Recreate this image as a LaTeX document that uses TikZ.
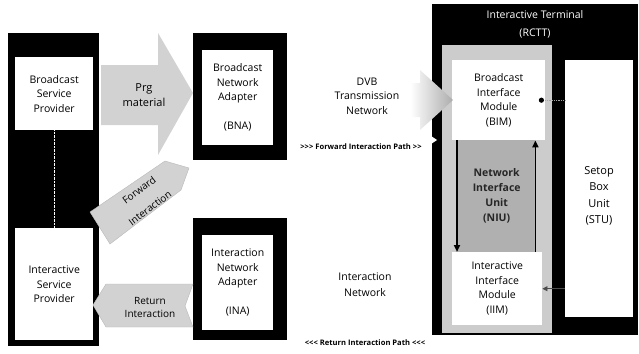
\documentclass[tikz,border=0pt]{standalone}
\usepackage{fontspec}
\setmainfont{Open Sans}
\usetikzlibrary{arrows.meta,calc}
\pgfdeclarehorizontalshading{dvbshade}{100bp}{color(0bp)=(white); color(25bp)=(white); color(62bp)=(white); color(75bp)=(gray!65); color(100bp)=(gray!65)}
\begin{document}
\begin{tikzpicture}[x=1pt,y=-1pt,
  box/.style={draw=none, inner sep=0pt, anchor=north west},
  blackbox/.style={box, fill=black},
  whitebox/.style={box, fill=white},
  lbl/.style={font=\fontsize{10.5}{14.5}\selectfont, align=center, inner sep=0pt},
  arrlbl/.style={font=\fontsize{10}{13}\selectfont, align=center, inner sep=0pt},
  pathlbl/.style={font=\fontsize{7.6}{9}\selectfont\bfseries, inner sep=0pt},
  flow/.style={fill=gray!35, draw=gray!55, line width=0.4pt},
  niuarrow/.style={line width=1.8pt, -{Triangle[length=7pt,width=6pt]}}]
\useasboundingbox (0,0) rectangle (639,353);

% left column
\node[blackbox, minimum width=91, minimum height=313] (lcol) at (8,33) {};
\node[whitebox, minimum width=78, minimum height=73] (bsp) at (15,57) {};
\node[whitebox, minimum width=78, minimum height=112] (isp) at (15,228) {};
\node[lbl] at (bsp.center) {Broadcast\\Service\\Provider};
\node[lbl] at (isp.center) {Interactive\\Service\\Provider};
\draw[white, densely dotted, line width=0.4pt] (bsp.south) -- (isp.north);

% adapters
\node[blackbox, minimum width=94, minimum height=127] (bnacol) at (193,33) {};
\node[whitebox, minimum width=71, minimum height=95] (bna) at (202,50) {};
\node[lbl] at (bna.center) {Broadcast\\Network\\Adapter\\[14.5pt](BNA)};
\node[blackbox, minimum width=94, minimum height=122] (inacol) at (193,218) {};
\node[whitebox, minimum width=71, minimum height=95] (ina) at (202,235) {};
\node[lbl] at (ina.center) {Interaction\\Network\\Adapter\\[14.5pt](INA)};

% terminal
\node[blackbox, minimum width=206, minimum height=331] (term) at (432,4) {};
\node[lbl, text=white, font=\fontsize{10.5}{18}\selectfont] (termlbl) at (535,24) {Interactive Terminal\\(RCTT)};
\node[box, fill=gray!40, minimum width=110, minimum height=288] (panel) at (442,45) {};
\node[box, fill=gray!62, minimum width=77, minimum height=112] (niu) at (458,140) {};
\node[whitebox, minimum width=93, minimum height=80] (bim) at (452,60) {};
\node[whitebox, minimum width=90, minimum height=73] (iim) at (452,252) {};
\node[whitebox, minimum width=68, minimum height=257] (stu) at (565,60) {};
\node[lbl] at (bim.center) {Broadcast\\Interface\\Module\\(BIM)};
\node[lbl, text=black!85, font=\fontsize{10.5}{15}\selectfont\bfseries] at (niu.center) {Network\\Interface\\Unit\\(NIU)};
\node[lbl] at (iim.center) {Interactive\\Interface\\Module\\(IIM)};
\node[lbl, font=\fontsize{11}{16.5}\selectfont] at (599,196) {Setop\\Box\\Unit\\(STU)};

\draw[niuarrow] ([xshift=5pt]bim.south west) -- ([xshift=5pt]iim.north west);
\draw[niuarrow] ([xshift=-7pt]iim.north east) -- ([xshift=-10pt]bim.south east);
\draw[densely dotted, gray!70, line width=0.8pt] ([xshift=-4pt]bim.east) -- (bim.east -| stu.west);
\fill ([xshift=-4pt]bim.east) circle (2.6);
\draw[-{Triangle[length=5pt,width=5pt]}, line width=0.8pt, gray!60!black] (iim.east -| stu.west) -- (iim.east);

% Prg material arrow
\fill[gray!35] (101,65) -- (158,65) -- (158,33) -- (193,93) -- (158,155) -- (158,125) -- (101,125) -- cycle;
\node[arrlbl, font=\fontsize{11}{15}\selectfont] (prg) at (144,95) {Prg\\material};

% DVB transmission network
\shade[shading=dvbshade] (289,83) -- (420,83) -- (420,70) -- (453,100) -- (420,130) -- (420,117) -- (289,117) -- (293,100) -- cycle;
\node[lbl] (dvb) at (367,96) {DVB\\Transmission\\Network};
\node[pathlbl] (fpath) at (361,147) {>{}>{}> Forward Interaction Path >{}>};
\fill[white] (431,136) -- (437,140) -- (431,144) -- cycle;

% interaction network
\node[lbl, font=\fontsize{10.5}{16}\selectfont] (inet) at (365,285) {Interaction\\Network};
\node[pathlbl] (rpath) at (365,343) {<{}<{}< Return Interaction Path <{}<{}<};

% forward interaction
\path[flow] (90,212) -- (165,161) -- (189,168) -- (181,190) -- (110,244) -- cycle;
\node[arrlbl, rotate=37] (fwd1) at (139,190) {Forward};
\node[arrlbl, rotate=37] (fwd2) at (150,208) {Interaction};

% return interaction
\path[flow] (93,305) -- (106,284) -- (193,284) -- (185,306) -- (193,327) -- (106,327) -- cycle;
\node[arrlbl] (ret) at (150,307) {Return\\Interaction};
\end{tikzpicture}
\end{document}
